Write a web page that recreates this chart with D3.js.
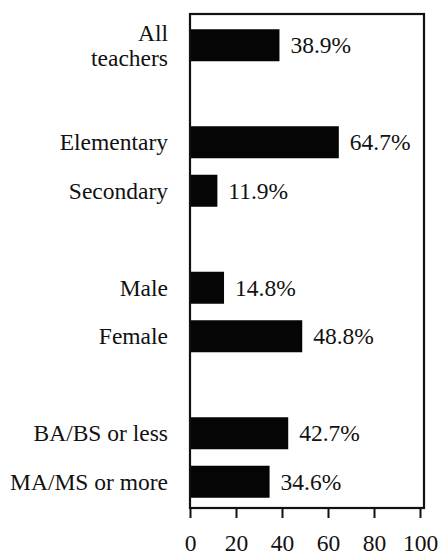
<!DOCTYPE html>
<html>
<head>
<meta charset="utf-8">
<script src="https://cdn.jsdelivr.net/npm/d3@7"></script>
<style>
  body { margin: 0; background: #fff; }
  svg text { font-family: "Liberation Serif", "Times New Roman", serif; fill: #111; }
</style>
</head>
<body>
<svg id="chart"></svg>
<script>
// bar groups, a blank row goes between each group
const groups = [
  ["All\nteachers"],
  ["Elementary", "Secondary"],
  ["Male", "Female"],
  ["BA/BS or less", "MA/MS or more"]
];
const values = [38.9, 64.7, 11.9, 14.8, 48.8, 42.7, 34.6];
const ticks = [0, 20, 40, 60, 80, 100];

(function () {
  const W = 443, H = 555, FS = 23.5;
  const svg = d3.select("#chart").attr("width", W).attr("height", H);

  // build rows with spacer keys between groups
  let rows = [], data = [], k = 0;
  groups.forEach((g, gi) => {
    if (gi > 0) rows.push("gap" + gi);
    g.forEach(c => { rows.push(c); data.push({cat: c, v: values[k++]}); });
  });

  const frame = {left: 190, right: 424, top: 14, bottom: 508};

  const x = d3.scaleLinear().domain([0, 100]).range([190, 420]);
  const y = d3.scaleBand().domain(rows).range([21, 506]).paddingInner(0.34).paddingOuter(0.17);

  // bars
  svg.selectAll("rect.bar")
    .data(data)
    .enter().append("rect")
      .attr("class", "bar")
      .attr("x", x(0))
      .attr("y", d => y(d.cat))
      .attr("width", d => x(d.v) - x(0))
      .attr("height", y.bandwidth())
      .attr("fill", "#050505");

  // frame
  svg.append("rect")
    .attr("x", frame.left)
    .attr("y", frame.top)
    .attr("width", frame.right - frame.left)
    .attr("height", frame.bottom - frame.top)
    .attr("fill", "none")
    .attr("stroke", "#111")
    .attr("stroke-width", 2.2);

  // value labels
  svg.selectAll("text.val")
    .data(data)
    .enter().append("text")
      .attr("class", "val")
      .attr("x", d => x(d.v) + 11)
      .attr("y", d => y(d.cat) + y.bandwidth() / 2)
      .attr("dy", "0.35em")
      .attr("font-size", FS)
      .text(d => d3.format(".1f")(d.v) + "%");

  // category labels
  const cat = svg.selectAll("text.cat")
    .data(data)
    .enter().append("text")
      .attr("class", "cat")
      .attr("text-anchor", "end")
      .attr("font-size", FS)
      .attr("x", 168)
      .attr("y", d => y(d.cat) + y.bandwidth() / 2);
  cat.each(function (d) {
    const lines = d.cat.split("\n");
    const t = d3.select(this);
    lines.forEach((l, i) => {
      t.append("tspan")
        .attr("x", 168)
        .attr("dy", i === 0 ? (0.35 - (lines.length - 1) * 0.52) + "em" : "1.04em")
        .text(l);
    });
  });

  // x axis below the frame
  const axis = svg.append("g")
    .attr("transform", "translate(0," + frame.bottom + ")")
    .call(d3.axisBottom(x).tickValues(ticks).tickSize(10).tickPadding(16));
  axis.select(".domain").remove();
  axis.selectAll(".tick line").attr("stroke", "#111").attr("stroke-width", 2);
  axis.selectAll(".tick text")
    .attr("font-size", FS)
    .attr("fill", "#111");
})();
</script>
</body>
</html>
